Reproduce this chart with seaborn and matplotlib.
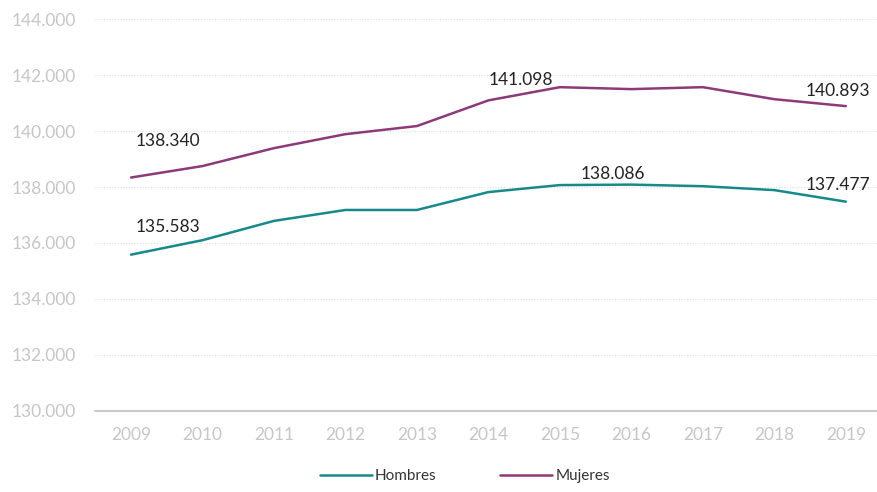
import matplotlib
matplotlib.use("Agg")
import matplotlib.pyplot as plt
import matplotlib.ticker as mticker
import seaborn as sns
import pandas as pd

years = ['2009', '2010', '2011', '2012', '2013', '2014', '2015', '2016', '2017', '2018', '2019']
hombres = [135583, 136100, 136790, 137180, 137180, 137820, 138070, 138086, 138030, 137890, 137477]
mujeres = [138340, 138750, 139390, 139890, 140180, 141098, 141570, 141500, 141570, 141140, 140893]

# etiquetas visibles: (serie, indice del año, desplazamiento en px)
labels_h = {0: (37, 28), 7: (-19, 11), 10: (-8, 17)}
labels_m = {0: (37, 37), 5: (32, 20), 10: (-8, 15)}

col_h = '#16898a'
col_m = '#8c3a78'

df = pd.DataFrame({
    'x': list(range(len(years))) * 2,
    'valor': hombres + mujeres,
    'serie': ['Hombres'] * len(years) + ['Mujeres'] * len(years),
})

sns.set_style('white')
plt.rcParams['font.family'] = ['Lato', 'DejaVu Sans']

fig = plt.figure(figsize=(8.77, 4.92), dpi=100)
# el area del grafico se sale un poco por la derecha, como en el original
ax = fig.add_axes([0.1087, 0.165, 0.8965, 0.796])

sns.lineplot(data=df, x='x', y='valor', hue='serie', palette={'Hombres': col_h, 'Mujeres': col_m},
             linewidth=1.8, ax=ax, legend=False)

ax.set_xlim(-0.5, len(years) - 0.5)
ax.set_ylim(130000, 144000)
ax.yaxis.set_major_locator(mticker.MultipleLocator(2000))
ax.yaxis.set_major_formatter(mticker.FuncFormatter(lambda v, p: f'{int(v):,}'.replace(',', '.')))
ax.set_xticks(range(len(years)))
ax.set_xticklabels(years)
ax.set_xticks([i - 0.5 for i in range(len(years) + 1)], minor=True)
ax.tick_params(axis='x', which='major', length=0, labelsize=12.5, labelcolor='#c6c6c6', pad=12)
ax.tick_params(axis='x', which='minor', length=5, color='#bfbfbf', width=1)
ax.tick_params(axis='y', length=0, labelsize=12.5, labelcolor='#c6c6c6', pad=14)
ax.set_xlabel('')
ax.set_ylabel('')

for y in range(132000, 144001, 2000):
    ax.axhline(y, color='#e0e0e0', linewidth=0.8, linestyle=(0, (1, 1.5)), zorder=0)

for s in ['top', 'right', 'left']:
    ax.spines[s].set_visible(False)
ax.spines['bottom'].set_color('#bfbfbf')
ax.spines['bottom'].set_linewidth(1.2)

fmt = lambda v: f'{v:,}'.replace(',', '.')
for i, (dx, dy) in labels_h.items():
    ax.annotate(fmt(hombres[i]), (i, hombres[i]), xytext=(dx, dy), textcoords='offset pixels',
                ha='center', va='center', fontsize=12.5, color='#222222')
for i, (dx, dy) in labels_m.items():
    ax.annotate(fmt(mujeres[i]), (i, mujeres[i]), xytext=(dx, dy), textcoords='offset pixels',
                ha='center', va='center', fontsize=12.5, color='#222222')

handles = [plt.Line2D([], [], color=col_h, linewidth=1.8),
           plt.Line2D([], [], color=col_m, linewidth=1.8)]
fig.legend(handles, ['Hombres', 'Mujeres'], loc='lower center', bbox_to_anchor=(0.53, -0.01),
           ncol=2, frameon=False, fontsize=11, handlelength=3.4, handletextpad=0.2,
           columnspacing=4.2, labelcolor='#333333')

fig.savefig('out.png', dpi=100)
